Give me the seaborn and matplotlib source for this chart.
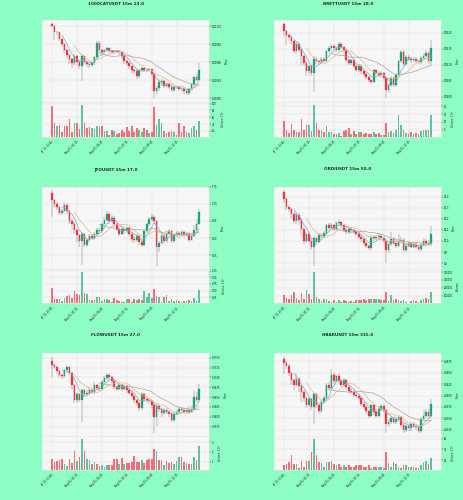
import numpy as np
import pandas as pd
import matplotlib
matplotlib.use("Agg")
import matplotlib.pyplot as plt
import seaborn as sns

# 60 candles, 15m each, starting Jul 31 23:45
times = pd.date_range("2025-07-31 23:45", periods=60, freq="15min")

cat_open0 = 0.0110022
cat_close = [0.0110000, 0.0109930, 0.0109934, 0.0109854, 0.0109800, 0.0109736, 0.0109682, 0.0109634, 0.0109590, 0.0109664,
             0.0109598, 0.0109562, 0.0109672, 0.0109598, 0.0109576, 0.0109568, 0.0109590, 0.0109656, 0.0109818, 0.0109736,
             0.0109708, 0.0109730, 0.0109752, 0.0109726, 0.0109712, 0.0109722, 0.0109716, 0.0109708, 0.0109664, 0.0109610,
             0.0109590, 0.0109554, 0.0109518, 0.0109500, 0.0109444, 0.0109518, 0.0109536, 0.0109518, 0.0109510, 0.0109526,
             0.0109474, 0.0109280, 0.0109316, 0.0109386, 0.0109394, 0.0109342, 0.0109354, 0.0109328, 0.0109292, 0.0109328,
             0.0109324, 0.0109306, 0.0109298, 0.0109280, 0.0109262, 0.0109298, 0.0109354, 0.0109438, 0.0109408, 0.0109518]
cat_high = [0.0110030, 0.0110006, 0.0109950, 0.0109940, 0.0109860, 0.0109810, 0.0109750, 0.0109700, 0.0109650, 0.0109690,
            0.0109680, 0.0109620, 0.0109690, 0.0109680, 0.0109610, 0.0109590, 0.0109600, 0.0109670, 0.0109830, 0.0109830,
            0.0109750, 0.0109750, 0.0109770, 0.0109760, 0.0109740, 0.0109740, 0.0109734, 0.0109730, 0.0109720, 0.0109680,
            0.0109620, 0.0109600, 0.0109570, 0.0109530, 0.0109510, 0.0109530, 0.0109550, 0.0109540, 0.0109530, 0.0109540,
            0.0109530, 0.0109480, 0.0109340, 0.0109400, 0.0109410, 0.0109400, 0.0109370, 0.0109370, 0.0109340, 0.0109340,
            0.0109340, 0.0109340, 0.0109320, 0.0109310, 0.0109300, 0.0109310, 0.0109370, 0.0109450, 0.0109470, 0.0109590]
cat_low = [0.0109990, 0.0109846, 0.0109900, 0.0109830, 0.0109770, 0.0109700, 0.0109640, 0.0109580, 0.0109540, 0.0109570,
           0.0109560, 0.0109520, 0.0109390, 0.0109570, 0.0109550, 0.0109540, 0.0109550, 0.0109570, 0.0109640, 0.0109700,
           0.0109670, 0.0109680, 0.0109710, 0.0109700, 0.0109690, 0.0109690, 0.0109700, 0.0109680, 0.0109640, 0.0109580,
           0.0109560, 0.0109520, 0.0109480, 0.0109470, 0.0109410, 0.0109430, 0.0109500, 0.0109490, 0.0109490, 0.0109490,
           0.0109450, 0.0109200, 0.0109250, 0.0109280, 0.0109340, 0.0109310, 0.0109320, 0.0109300, 0.0109270, 0.0109270,
           0.0109300, 0.0109280, 0.0109270, 0.0109250, 0.0109240, 0.0109240, 0.0109280, 0.0109340, 0.0109390, 0.0109400]
cat_vol = [94, 43, 33, 38, 17, 33, 33, 55, 17, 43, 43, 25, 96, 43, 28, 30, 28, 25, 35, 30,
           35, 20, 20, 9, 23, 20, 12, 14, 23, 17, 31, 20, 35, 17, 28, 23, 17, 27, 23, 15,
           17, 89, 38, 55, 43, 20, 14, 17, 20, 17, 9, 43, 17, 33, 17, 14, 28, 35, 23, 48]  # x 10^7

brett_open0 = 0.052265
brett_close = [0.052053, 0.051916, 0.051874, 0.051737, 0.051421, 0.051663, 0.051474, 0.051263, 0.051053, 0.050790,
               0.050947, 0.050737, 0.051179, 0.051105, 0.051074, 0.051179, 0.051126, 0.051421, 0.051526, 0.051600,
               0.051526, 0.051453, 0.051663, 0.051558, 0.051474, 0.051158, 0.051053, 0.051137, 0.050947, 0.050842,
               0.050968, 0.050790, 0.050716, 0.050611, 0.050526, 0.050463, 0.050821, 0.050737, 0.050684, 0.050737,
               0.050579, 0.050211, 0.050368, 0.050579, 0.050368, 0.050684, 0.051105, 0.051389, 0.051032, 0.051242,
               0.051179, 0.051137, 0.051179, 0.051105, 0.051084, 0.051211, 0.051284, 0.051368, 0.051105, 0.051526]
brett_high = [0.052295, 0.052084, 0.051958, 0.051916, 0.051768, 0.051705, 0.051705, 0.051526, 0.051316, 0.051105,
              0.051000, 0.051000, 0.051263, 0.051242, 0.051158, 0.051242, 0.051242, 0.051474, 0.051579, 0.051663,
              0.051642, 0.051579, 0.051705, 0.051705, 0.051600, 0.051516, 0.051211, 0.051179, 0.051179, 0.050989,
              0.051011, 0.051011, 0.050842, 0.050758, 0.050653, 0.050568, 0.050863, 0.050863, 0.050789, 0.050789,
              0.050779, 0.050611, 0.050421, 0.050632, 0.050632, 0.050737, 0.051158, 0.051474, 0.051453, 0.051305,
              0.051305, 0.051242, 0.051242, 0.051242, 0.051158, 0.051284, 0.051368, 0.051474, 0.051421, 0.051789]
brett_low = [0.051895, 0.051632, 0.051789, 0.051663, 0.051368, 0.051347, 0.051389, 0.051000, 0.050968, 0.050632,
             0.050716, 0.050653, 0.050158, 0.051032, 0.050989, 0.051011, 0.051074, 0.051074, 0.051368, 0.051474,
             0.051453, 0.051389, 0.051389, 0.051495, 0.051411, 0.051074, 0.050989, 0.050989, 0.050884, 0.050779,
             0.050779, 0.050716, 0.050632, 0.050547, 0.050463, 0.050400, 0.050421, 0.050674, 0.050611, 0.050611,
             0.050505, 0.049947, 0.050105, 0.050295, 0.050295, 0.050295, 0.050632, 0.051053, 0.050968, 0.050968,
             0.051116, 0.051053, 0.051074, 0.051032, 0.051011, 0.051032, 0.051158, 0.051242, 0.051032, 0.051000]
brett_vol = [10.3, 4.8, 2.6, 8.8, 4.4, 3.3, 3.7, 12.1, 4.4, 7.7, 8.1, 4.0, 21.0, 9.2, 4.4, 4.4, 3.3, 7.0, 3.7, 3.3,
             2.2, 2.2, 2.6, 1.1, 4.0, 4.4, 5.9, 2.2, 4.0, 2.2, 3.3, 3.7, 2.2, 2.6, 1.8, 2.2, 3.3, 2.2, 2.6, 1.3,
             1.3, 9.2, 3.7, 4.0, 2.6, 4.8, 14.3, 7.7, 4.8, 2.6, 2.2, 3.7, 2.2, 2.6, 1.8, 4.0, 4.8, 4.4, 4.8, 14.3]  # x 10^6

jto_open0 = 1.7309
jto_close = [1.7116, 1.7000, 1.6903, 1.6729, 1.6807, 1.6971, 1.6787, 1.6497, 1.6420, 1.6246,
             1.6081, 1.5917, 1.6110, 1.5791, 1.5936, 1.6052, 1.6014, 1.6130, 1.6246, 1.6207,
             1.6400, 1.6536, 1.6691, 1.6497, 1.6594, 1.6420, 1.6275, 1.6130, 1.6265, 1.6207,
             1.6284, 1.6130, 1.5985, 1.5956, 1.6072, 1.5888, 1.5791, 1.6207, 1.6400, 1.6546,
             1.6613, 1.6497, 1.5724, 1.5859, 1.6072, 1.5917, 1.6130, 1.6207, 1.5917, 1.6081,
             1.6149, 1.6110, 1.6168, 1.6081, 1.6130, 1.5956, 1.6072, 1.6246, 1.6420, 1.6758]
jto_high = [1.7406, 1.7155, 1.7048, 1.6942, 1.6855, 1.7048, 1.7019, 1.6826, 1.6565, 1.6468,
            1.6304, 1.6130, 1.6178, 1.6149, 1.5985, 1.6110, 1.6110, 1.6178, 1.6304, 1.6304,
            1.6439, 1.6613, 1.6787, 1.6729, 1.6662, 1.6633, 1.6468, 1.6323, 1.6323, 1.6323,
            1.6342, 1.6323, 1.6178, 1.6052, 1.6130, 1.6110, 1.5936, 1.6246, 1.6439, 1.6613,
            1.6691, 1.6662, 1.6536, 1.5917, 1.6130, 1.6130, 1.6207, 1.6275, 1.6246, 1.6130,
            1.6207, 1.6197, 1.6226, 1.6207, 1.6178, 1.6168, 1.6130, 1.6371, 1.6565, 1.6855]
jto_low = [1.6613, 1.6923, 1.6826, 1.6662, 1.6662, 1.6758, 1.6710, 1.6400, 1.6275, 1.6130,
           1.5888, 1.5743, 1.5211, 1.5724, 1.5743, 1.5888, 1.5936, 1.5956, 1.6081, 1.6130,
           1.6149, 1.6342, 1.6497, 1.6420, 1.6439, 1.6323, 1.6207, 1.6052, 1.6081, 1.6130,
           1.6149, 1.6052, 1.5888, 1.5859, 1.5888, 1.5791, 1.5724, 1.5762, 1.6149, 1.6342,
           1.6497, 1.6420, 1.5182, 1.5598, 1.5820, 1.5820, 1.5859, 1.6081, 1.5859, 1.5859,
           1.6033, 1.6052, 1.6062, 1.6033, 1.6033, 1.5888, 1.5917, 1.6033, 1.6178, 1.6371]
jto_vol = [0.59, 0.18, 0.18, 0.19, 0.13, 0.21, 0.31, 0.34, 0.21, 0.50, 0.38, 0.34, 1.18, 0.43, 0.38, 0.15, 0.15, 0.15, 0.28, 0.25,
           0.13, 0.18, 0.18, 0.15, 0.09, 0.21, 0.15, 0.13, 0.09, 0.09, 0.18, 0.19, 0.09, 0.18, 0.15, 0.18, 0.15, 0.49, 0.25, 0.40,
           0.21, 0.55, 0.30, 0.28, 0.09, 0.25, 0.34, 0.11, 0.18, 0.13, 0.15, 0.11, 0.09, 0.13, 0.11, 0.15, 0.13, 0.21, 0.11, 0.53]  # x 10^6

ordi_open0 = 10.444
ordi_close = [10.385, 10.309, 10.291, 10.244, 10.185, 10.238, 10.191, 10.112, 10.003, 10.068,
              10.003, 9.944, 10.024, 9.994, 10.053, 10.044, 10.074, 10.141, 10.121, 10.141,
              10.112, 10.162, 10.171, 10.141, 10.103, 10.085, 10.112, 10.097, 10.082, 10.062,
              10.038, 10.015, 9.979, 9.956, 9.938, 10.038, 10.024, 10.038, 10.044, 10.026,
              10.003, 9.921, 9.974, 10.021, 9.979, 9.956, 10.003, 10.009, 9.921, 9.956,
              9.979, 9.950, 9.974, 9.950, 9.926, 9.965, 10.003, 9.979, 9.974, 10.062]
ordi_high = [10.462, 10.397, 10.326, 10.303, 10.259, 10.259, 10.250, 10.209, 10.126, 10.082,
             10.079, 10.024, 10.044, 10.038, 10.074, 10.074, 10.091, 10.156, 10.162, 10.162,
             10.156, 10.185, 10.191, 10.185, 10.156, 10.121, 10.126, 10.126, 10.112, 10.097,
             10.079, 10.053, 10.026, 9.994, 9.974, 10.053, 10.053, 10.056, 10.068, 10.062,
             10.044, 10.015, 9.994, 10.082, 10.038, 10.009, 10.068, 10.038, 10.024, 9.974,
             9.997, 9.994, 9.991, 9.991, 9.968, 9.985, 10.024, 10.015, 10.009, 10.132]
ordi_low = [10.347, 10.279, 10.259, 10.200, 10.162, 10.156, 10.141, 10.053, 9.974, 9.985,
            9.979, 9.921, 9.774, 9.965, 9.979, 10.024, 10.024, 10.062, 10.097, 10.103,
            10.091, 10.097, 10.141, 10.126, 10.082, 10.068, 10.068, 10.079, 10.062, 10.044,
            10.021, 9.994, 9.962, 9.938, 9.921, 9.921, 10.003, 10.009, 10.021, 10.009,
            9.979, 9.803, 9.891, 9.956, 9.962, 9.932, 9.944, 9.979, 9.903, 9.903,
            9.944, 9.932, 9.932, 9.932, 9.909, 9.909, 9.950, 9.962, 9.956, 9.956]
ordi_vol = [104000, 75000, 54000, 104000, 150000, 75000, 46000, 138000, 54000, 167000,
            117000, 63000, 396000, 83000, 54000, 33000, 63000, 54000, 33000, 21000,
            42000, 21000, 46000, 21000, 46000, 33000, 21000, 29000, 21000, 46000,
            46000, 42000, 54000, 46000, 63000, 63000, 63000, 63000, 63000, 46000,
            46000, 150000, 33000, 104000, 46000, 63000, 46000, 33000, 46000, 21000,
            12000, 33000, 42000, 33000, 21000, 46000, 63000, 75000, 54000, 150000]

flow_open0 = 0.37407
flow_close = [0.37306, 0.37264, 0.37155, 0.37071, 0.37037, 0.37189, 0.37256, 0.37121, 0.36801, 0.36414,
              0.36582, 0.36414, 0.36667, 0.36566, 0.36616, 0.36683, 0.36633, 0.36801, 0.36734, 0.36717,
              0.36886, 0.36987, 0.37071, 0.37003, 0.36919, 0.36751, 0.36717, 0.36801, 0.36717, 0.36784,
              0.36667, 0.36616, 0.36515, 0.36414, 0.36347, 0.36212, 0.36582, 0.36448, 0.36431, 0.36397,
              0.36296, 0.36002, 0.36279, 0.36195, 0.36094, 0.36162, 0.36128, 0.36061, 0.35909, 0.36077,
              0.36128, 0.36195, 0.36162, 0.36111, 0.36162, 0.36128, 0.36195, 0.36498, 0.36414, 0.36717]
flow_high = [0.37525, 0.37340, 0.37290, 0.37189, 0.37121, 0.37222, 0.37306, 0.37290, 0.37155, 0.36843,
             0.36633, 0.36616, 0.36717, 0.36717, 0.36667, 0.36751, 0.36734, 0.36886, 0.36835, 0.36801,
             0.36936, 0.37037, 0.37121, 0.37104, 0.37037, 0.36953, 0.36801, 0.36843, 0.36835, 0.36835,
             0.36818, 0.36717, 0.36650, 0.36549, 0.36448, 0.36380, 0.36633, 0.36616, 0.36498, 0.36481,
             0.36431, 0.36338, 0.36330, 0.36313, 0.36229, 0.36229, 0.36212, 0.36178, 0.36111, 0.36128,
             0.36178, 0.36246, 0.36246, 0.36212, 0.36212, 0.36279, 0.36296, 0.36650, 0.36633, 0.36843]
flow_low = [0.37012, 0.37205, 0.37096, 0.37012, 0.36970, 0.36987, 0.37138, 0.37054, 0.36717, 0.36338,
            0.36338, 0.36364, 0.35859, 0.36498, 0.36498, 0.36549, 0.36566, 0.36582, 0.36675, 0.36650,
            0.36667, 0.36843, 0.36936, 0.36936, 0.36869, 0.36700, 0.36650, 0.36667, 0.36650, 0.36667,
            0.36616, 0.36549, 0.36465, 0.36347, 0.36279, 0.36145, 0.36162, 0.36380, 0.36364, 0.36330,
            0.36229, 0.35598, 0.35774, 0.36128, 0.36002, 0.36044, 0.36061, 0.35993, 0.35859, 0.35859,
            0.36044, 0.36077, 0.36111, 0.36061, 0.36061, 0.36077, 0.36094, 0.36162, 0.36364, 0.36380]
flow_vol = [1.30, 0.97, 1.07, 1.13, 1.23, 0.73, 0.57, 1.30, 0.90, 2.13, 1.07, 1.47, 3.30, 2.13, 1.30, 1.13, 0.73, 1.00, 0.73, 0.57,
            0.67, 0.47, 0.67, 0.63, 0.63, 1.30, 1.23, 0.73, 1.37, 0.73, 0.90, 0.90, 0.97, 1.57, 0.97, 0.97, 1.13, 0.90, 1.13, 1.23,
            1.23, 2.30, 2.13, 1.13, 1.17, 0.67, 1.07, 0.90, 1.00, 0.73, 1.07, 1.50, 1.50, 0.97, 0.90, 0.73, 0.73, 1.50, 1.17, 2.57]  # x 10^6

hbar_open0 = 0.26803
hbar_close = [0.26727, 0.26652, 0.26502, 0.26351, 0.26238, 0.26374, 0.26200, 0.26087, 0.25937, 0.25786,
              0.25922, 0.25749, 0.26027, 0.25786, 0.25651, 0.25861, 0.25937, 0.26238, 0.26163, 0.26449,
              0.26313, 0.26434, 0.26313, 0.26238, 0.26343, 0.26178, 0.26102, 0.26087, 0.26012, 0.25997,
              0.25937, 0.25824, 0.25749, 0.25651, 0.25560, 0.25786, 0.25636, 0.25560, 0.25711, 0.25771,
              0.25673, 0.25372, 0.25425, 0.25500, 0.25425, 0.25485, 0.25523, 0.25349, 0.25244, 0.25334,
              0.25274, 0.25372, 0.25334, 0.25297, 0.25221, 0.25485, 0.25545, 0.25636, 0.25560, 0.25824]
hbar_high = [0.26855, 0.26765, 0.26690, 0.26539, 0.26389, 0.26479, 0.26404, 0.26238, 0.26125, 0.25974,
             0.25967, 0.25952, 0.26072, 0.26050, 0.25824, 0.25899, 0.25997, 0.26276, 0.26298, 0.26577,
             0.26502, 0.26479, 0.26464, 0.26358, 0.26389, 0.26374, 0.26223, 0.26163, 0.26125, 0.26072,
             0.26042, 0.25974, 0.25861, 0.25786, 0.25696, 0.25824, 0.25824, 0.25696, 0.25771, 0.25824,
             0.25816, 0.25711, 0.25485, 0.25560, 0.25545, 0.25530, 0.25575, 0.25560, 0.25395, 0.25395,
             0.25380, 0.25425, 0.25410, 0.25380, 0.25349, 0.25523, 0.25673, 0.25711, 0.25696, 0.25922]
hbar_low = [0.26479, 0.26577, 0.26426, 0.26238, 0.26125, 0.26178, 0.26072, 0.25861, 0.25861, 0.25726,
            0.25741, 0.25673, 0.25372, 0.25726, 0.25598, 0.25605, 0.25824, 0.25899, 0.26102, 0.26125,
            0.26253, 0.26276, 0.26253, 0.26178, 0.26193, 0.26125, 0.26050, 0.26027, 0.25967, 0.25952,
            0.25892, 0.25771, 0.25696, 0.25590, 0.25515, 0.25523, 0.25575, 0.25515, 0.25530, 0.25666,
            0.25621, 0.25184, 0.25297, 0.25372, 0.25372, 0.25372, 0.25440, 0.25297, 0.25184, 0.25199,
            0.25229, 0.25229, 0.25289, 0.25244, 0.25184, 0.25184, 0.25440, 0.25500, 0.25500, 0.25515]
hbar_vol = [11, 13, 16, 29, 13, 13, 5, 19, 8, 19, 19, 35, 59, 29, 16, 14, 8, 16, 16, 18,
            12, 10, 12, 8, 10, 8, 11, 8, 8, 11, 10, 11, 8, 8, 11, 6, 8, 8, 8, 8,
            6, 35, 14, 8, 17, 13, 8, 6, 10, 10, 8, 8, 8, 6, 5, 10, 16, 19, 13, 24]  # x 10^6

charts = [
    ("1000CATUSDT 15m 23.0", cat_open0, cat_close, cat_high, cat_low, cat_vol, 7),
    ("BRETTUSDT 15m 28.0", brett_open0, brett_close, brett_high, brett_low, brett_vol, 6),
    ("JTOUSDT 15m 17.0", jto_open0, jto_close, jto_high, jto_low, jto_vol, 6),
    ("ORDIUSDT 15m 50.0", ordi_open0, ordi_close, ordi_high, ordi_low, ordi_vol, 0),
    ("FLOWUSDT 15m 27.0", flow_open0, flow_close, flow_high, flow_low, flow_vol, 6),
    ("HBARUSDT 15m 315.0", hbar_open0, hbar_close, hbar_high, hbar_low, hbar_vol, 6),
]

UP, DOWN = "#17a673", "#f7323f"
VUP, VDOWN = "#5cc49c", "#f46d77"
WICK = "#7c7c7c"
MAV = (5, 10, 20)
MAV_COLORS = ["#73aed6", "#f5b27a", "#a6a6a6"]
FACE, GRID = "#f6f6f6", "#dedede"
BG = "#8effc4"

sns.set_style("whitegrid")
plt.rcParams["font.family"] = ["DejaVu Sans"]

fig = plt.figure(figsize=(4.64, 5.0), dpi=100, facecolor=BG)

col_left = [0.0905, 0.5905]
width = 0.36
rows = [((0.7966, 0.1634), (0.7266, 0.070), 0.992),
        ((0.4614, 0.1652), (0.3934, 0.068), 0.661),
        ((0.128, 0.1654), (0.060, 0.068), 0.329)]

for k, (title, open0, close, high, low, vol, vexp) in enumerate(charts):
    r, c = divmod(k, 2)
    (pb, ph), (vb, vh), ty = rows[r]
    ax = fig.add_axes([col_left[c], pb, width, ph])
    axv = fig.add_axes([col_left[c], vb, width, vh])

    close = np.array(close)
    high = np.array(high)
    low = np.array(low)
    vol = np.array(vol, dtype=float)
    opens = np.r_[open0, close[:-1]]
    idx = np.arange(len(close))
    up = close >= opens
    colors = np.where(up, UP, DOWN)

    ax.vlines(idx, low, high, color=WICK, lw=0.35, zorder=2)
    ax.bar(idx, close - opens, bottom=opens, width=0.65, color=colors,
           edgecolor=colors, linewidth=0.2, zorder=3)
    s = pd.Series(close)
    for w, mc in zip(MAV, MAV_COLORS):
        sns.lineplot(x=idx, y=s.rolling(w).mean().values, ax=ax, color=mc, lw=0.5, zorder=4)

    axv.bar(idx, vol, width=0.65, color=np.where(up, VUP, VDOWN), linewidth=0, zorder=3)

    lo, hi = low.min(), high.max()
    pad = 0.045 * (hi - lo)
    ax.set_ylim(lo - pad, hi + pad)
    axv.set_ylim(0.3 * vol.min(), 1.1 * vol.max())
    ax.set_xlim(-4, 63)
    axv.set_xlim(-4, 63)

    ticks = list(range(0, 60, 10))
    ax.set_xticks(ticks)
    ax.set_xticklabels([])
    axv.set_xticks(ticks)
    axv.set_xticklabels([times[i].strftime("%b %d, %H:%M") for i in ticks],
                        rotation=45, ha="right", rotation_mode="anchor")
    ax.yaxis.get_major_formatter().set_useOffset(False)

    for a in (ax, axv):
        a.set_facecolor(FACE)
        a.grid(True, color=GRID, lw=0.35)
        a.set_axisbelow(True)
        a.yaxis.tick_right()
        a.yaxis.set_label_position("right")
        a.tick_params(labelsize=1.8, length=1.2, width=0.3, pad=0.9, colors="#101010")
        a.set_xlabel("")
        for sp in a.spines.values():
            sp.set_color("#e4e4e4")
            sp.set_linewidth(0.4)

    ax.set_ylabel("Price", fontsize=1.9, labelpad=2.0)
    vlabel = "Volume" if vexp == 0 else "Volume  $10^{%d}$" % vexp
    axv.set_ylabel(vlabel, fontsize=1.9, labelpad=2.0)

    fig.text(0.25 + 0.5 * c, ty, title, ha="center", va="center",
             fontsize=3.0, fontweight="bold")

fig.savefig("out.png", dpi=100, facecolor=BG)
